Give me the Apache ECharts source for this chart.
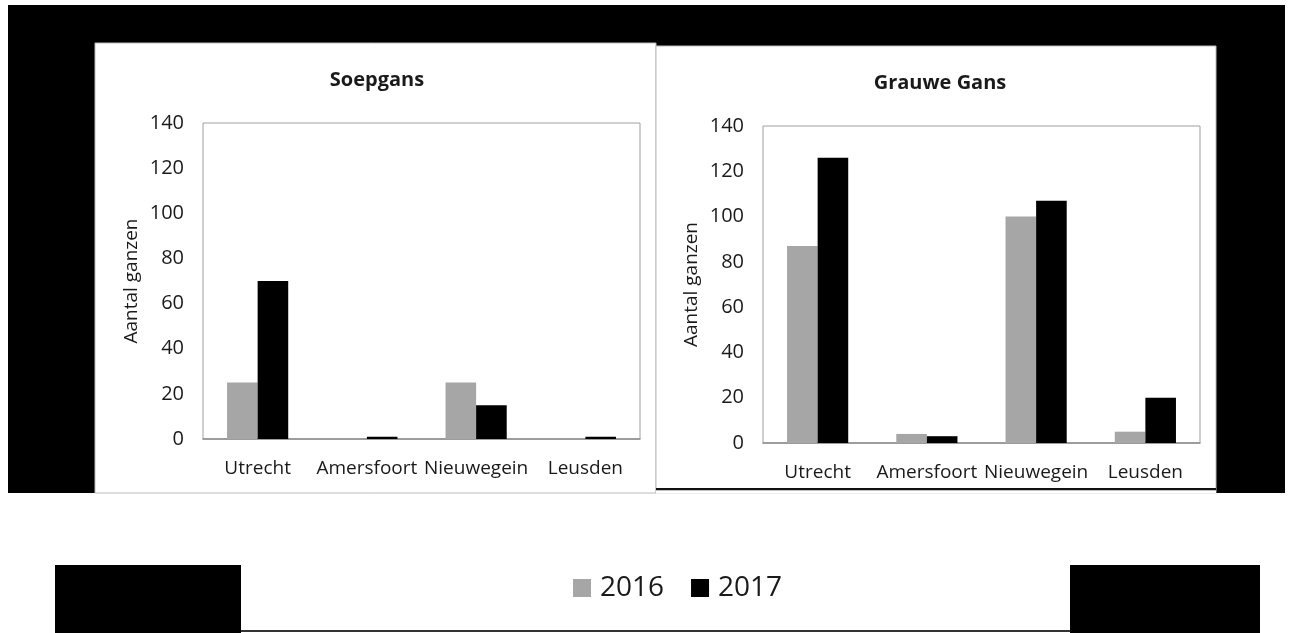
<!DOCTYPE html>
<html>
<head>
<meta charset="utf-8">
<script src="https://cdn.jsdelivr.net/npm/echarts@6/dist/echarts.min.js"></script>
<style>
html,body{margin:0;padding:0;background:#fff;}
#c{width:1295px;height:633px;}
</style>
</head>
<body>
<div id="c"></div>
<script>
const categories = ['Utrecht', 'Amersfoort', 'Nieuwegein', 'Leusden'];
const seriesNames = ['2016', '2017'];
const soepgans2016 = [25, 0, 25, 0];
const soepgans2017 = [70, 1, 15, 1];
const grauwe2016 = [87, 4, 100, 5];
const grauwe2017 = [126, 3, 107, 20];
const titles = ['Soepgans', 'Grauwe Gans'];
const yAxisName = 'Aantal ganzen';

const FONT = '"Open Sans", sans-serif';
const GRAY = '#a6a6a6';
const BLACK = '#000000';
const TXT = '#1a1a1a';

const chart = echarts.init(document.getElementById('c'));

function yAxis(idx) {
  return {
    type: 'value', gridIndex: idx, min: 0, max: 140, interval: 20,
    name: yAxisName, nameLocation: 'middle', nameGap: 62, nameRotate: 90,
    nameTextStyle: {fontFamily: FONT, fontSize: 19, color: TXT},
    axisLine: {show: false}, axisTick: {show: false}, splitLine: {show: false},
    axisLabel: {fontFamily: FONT, fontSize: 20, color: TXT, margin: 19}
  };
}
function xAxis(idx) {
  return {
    type: 'category', gridIndex: idx, data: categories,
    axisLine: {show: true, lineStyle: {color: '#8c8c8c', width: 1.5}},
    axisTick: {show: false},
    axisLabel: {fontFamily: FONT, fontSize: 19, color: TXT, margin: 20, interval: 0}
  };
}
function bar(name, data, color, idx) {
  return {
    type: 'bar', name: name, data: data, xAxisIndex: idx, yAxisIndex: idx,
    barWidth: '28%', barGap: '0%',
    itemStyle: {color: color},
    emphasis: {disabled: true}
  };
}

chart.setOption({
  animation: false,
  backgroundColor: '#ffffff',
  graphic: [
    {type: 'rect', z: -10, shape: {x: 8, y: 5, width: 1277, height: 488}, style: {fill: '#000'}},
    {type: 'rect', z: -9, shape: {x: 95, y: 43, width: 561, height: 450}, style: {fill: '#fff', stroke: '#bbb', lineWidth: 1}},
    {type: 'rect', z: -9, shape: {x: 656, y: 46, width: 560, height: 447}, style: {fill: '#fff', stroke: '#bbb', lineWidth: 1}},
    {type: 'rect', z: -8, shape: {x: 656, y: 488, width: 560, height: 2.5}, style: {fill: '#111'}},
    {type: 'rect', z: -8, shape: {x: 656, y: 490.5, width: 560, height: 3}, style: {fill: '#fff'}},
    {type: 'rect', z: -10, shape: {x: 55, y: 565, width: 186, height: 68}, style: {fill: '#000'}},
    {type: 'rect', z: -10, shape: {x: 1070, y: 565, width: 190, height: 68}, style: {fill: '#000'}},
    {type: 'rect', z: -10, shape: {x: 241, y: 630, width: 829, height: 2}, style: {fill: '#333'}}
  ],
  title: [
    {text: titles[0], left: 372, top: 65, textAlign: 'center',
     textStyle: {fontFamily: FONT, fontSize: 20, fontWeight: 'bold', color: TXT}},
    {text: titles[1], left: 935, top: 68, textAlign: 'center',
     textStyle: {fontFamily: FONT, fontSize: 20, fontWeight: 'bold', color: TXT}}
  ],
  legend: {
    data: seriesNames,
    left: 568, top: 569,
    icon: 'rect', itemWidth: 18, itemHeight: 18, itemGap: 27,
    textStyle: {fontFamily: FONT, fontSize: 28, color: TXT, padding: [0, 0, 0, 4]}
  },
  grid: [
    {left: 203, top: 123, width: 437, height: 316, show: true, borderColor: '#a0a0a0', borderWidth: 1, backgroundColor: 'transparent'},
    {left: 763, top: 126, width: 437, height: 317, show: true, borderColor: '#a0a0a0', borderWidth: 1, backgroundColor: 'transparent'}
  ],
  xAxis: [xAxis(0), xAxis(1)],
  yAxis: [yAxis(0), yAxis(1)],
  series: [
    bar(seriesNames[0], soepgans2016, GRAY, 0),
    bar(seriesNames[1], soepgans2017, BLACK, 0),
    bar(seriesNames[0], grauwe2016, GRAY, 1),
    bar(seriesNames[1], grauwe2017, BLACK, 1)
  ]
});
</script>
</body>
</html>
